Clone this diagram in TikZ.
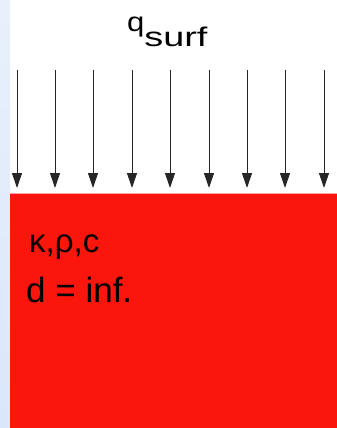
\documentclass[tikz,border=0pt]{standalone}
\usepackage{fontspec}
\setmainfont{Liberation Sans}
\usepackage{xcolor}
\usetikzlibrary{arrows.meta, positioning}
\definecolor{slabred}{RGB}{250,22,12}
\definecolor{stripblue}{RGB}{218,230,250}
\definecolor{stripblueL}{RGB}{232,240,252}
\tikzset{
  flux/.style={-{Triangle[length=15pt, width=10pt]}, line width=1pt, black!85},
  prop/.style={anchor=base west, inner sep=0pt},
  every node/.style={text=black}
}
\begin{document}
\begin{tikzpicture}[x=1pt, y=-1pt]
    \useasboundingbox (0,0) rectangle (337,428);
    % page strip and slab
    \shade[top color=stripblueL, bottom color=stripblue] (0,0) rectangle (10,428);
    \fill[slabred] (10,193) rectangle (337,428);
    \draw[red!35, line width=1pt] (10,193) -- (337,193);

    % heat flux arrows
    \foreach \i/\x in {1/17,2/55,3/93,4/132,5/170,6/209,7/247,8/285,9/324} {
      \coordinate (top\i) at (\x,70);
      \coordinate (tip\i) at (\x,188);
      \draw[flux] (top\i) -- (tip\i);
    }

    \node[anchor=base west, inner sep=0pt] (qsurf) at (127,32)
      {\fontsize{27}{28}\selectfont\scalebox{1.15}[1]{q}\raisebox{-15pt}{\scalebox{1.4}[1]{surf}}};

    \node[prop, font=\fontsize{33}{36}\selectfont] (props) at (29,252) {κ,ρ,c};
    \node[prop, font=\fontsize{35}{38}\selectfont, below=50pt of props.base west, anchor=base west, xshift=-3pt] (depth) {d = inf.};
\end{tikzpicture}
\end{document}
